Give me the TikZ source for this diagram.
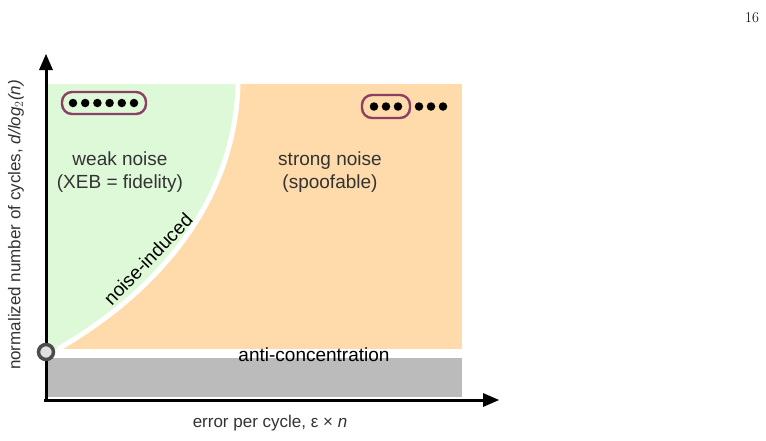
\documentclass[tikz,border=0pt]{standalone}
\usepackage{fontspec}
\setsansfont{Liberation Sans}
\begin{document}
\begin{tikzpicture}[x=1pt,y=-1pt,
  lbl/.style={font=\sffamily\fontsize{19}{23}\selectfont, text=black!80, align=center},
  dot/.style={circle,fill=black,inner sep=0,minimum size=8.5pt},
  pill/.style={draw=pillc,line width=2.4pt,rounded corners=10pt}]
\definecolor{greenc}{HTML}{DDF9D8}
\definecolor{orangec}{HTML}{FFDAAA}
\definecolor{grayc}{HTML}{BBBBBB}
\definecolor{pillc}{HTML}{8B3F63}
\useasboundingbox (0,0) rectangle (766,440);
\fill[orangec] (48,84) rectangle (462,349);
\fill[greenc] (48,84) -- (48,349) -- (58,349) .. controls (160,290) and (235,200) .. (238,84) -- cycle;
\draw[white,line width=5pt] (58,349) .. controls (160,290) and (235,200) .. (238,84);
\fill[grayc] (48,358) rectangle (462,397);
\draw[line width=3pt] (46,400) -- (46,68);
\fill (46,54) -- (39,70) -- (53,70) -- cycle;
\draw[line width=3pt] (44,400) -- (486,400);
\fill (499,400) -- (483,393) -- (483,407) -- cycle;
\node[draw=black!70,line width=3.5pt,fill=black!12,circle,inner sep=0,minimum size=15pt] (origin) at (46,352) {};
\node[pill,minimum width=84pt,minimum height=22pt] (p1) at (104,103) {};
\foreach \i in {0,...,5} \node[dot] (a\i) at (73+\i*12.2,103) {};
\node[pill,minimum width=48pt,minimum height=23pt] (p2) at (386,106.5) {};
\foreach \i/\x in {0/374,1/386,2/398,3/419,4/431,5/443} \node[dot] (b\i) at (\x,106.5) {};
\node[lbl] (weak) at (120,172) {weak noise\\(XEB = fidelity)};
\node[lbl] (strong) at (330,172) {strong noise\\(spoofable)};
\node[lbl,rotate=46,text=black] (ni) at (148,259) {noise-induced};
\node[lbl,text=black] (ac) at (314,355) {anti-concentration};
\node[lbl,font=\sffamily\fontsize{17}{21}\selectfont] (xl) at (270,423) {error per cycle, ε × \textit{n}};
\node[lbl,rotate=90,font=\sffamily\fontsize{17}{21}\selectfont] (yl) at (16,225) {normalized number of cycles, \textit{d/log}$_2$\textit{(n)}};
\node[font=\fontsize{15}{18}\selectfont] (pg) at (752,18) {16};
\end{tikzpicture}
\end{document}
